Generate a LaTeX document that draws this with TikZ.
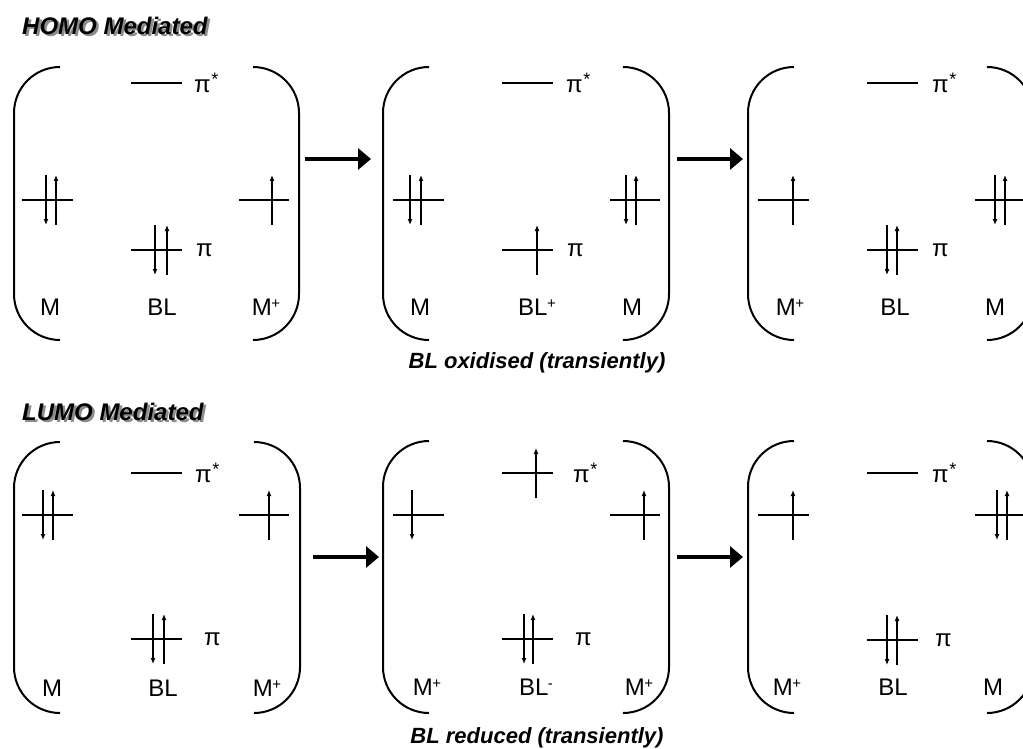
\documentclass[tikz,border=0pt]{standalone}
\usepackage{fontspec}
\setmainfont{Liberation Sans}
\usetikzlibrary{arrows.meta}
\newcommand\chg[1]{\kern-0.5pt\raisebox{0.3em}{\fontsize{15}{15}\selectfont #1}}
\newcommand\pstar{π\kern0.5pt\raisebox{0.28em}{\fontsize{18}{18}\selectfont *}}
\newcommand\shad[1]{\makebox[0pt][l]{\kern2.5pt\raisebox{-2.5pt}{\color{black!45}#1}}#1}
\newcommand\lv[3]{\draw[lvl] (#1,#3) -- (#2,#3);}
\newcommand\eup[2]{\draw[el] (#1,#2+25) -- (#1,#2-25);}
\newcommand\edn[2]{\draw[el] (#1,#2-25) -- (#1,#2+25);}
\newcommand\brkL[3]{\draw[brk] (#1+46,#2) -- (#1,#2) -- (#1,#3) -- (#1+46,#3);}
\newcommand\brkR[3]{\draw[brk] (#1-46,#2) -- (#1,#2) -- (#1,#3) -- (#1-46,#3);}
\begin{document}
\begin{tikzpicture}[x=1pt,y=-1pt,
  lvl/.style={line width=1.3pt},
  el/.style={line width=1.3pt,-{Latex[length=6pt,width=5pt]}},
  brk/.style={line width=2pt,rounded corners=46pt},
  big/.style={line width=4pt,-{Triangle[length=13pt,width=21pt]}},
  lab/.style={font=\fontsize{24}{24}\selectfont, inner sep=0pt},
  orb/.style={font=\fontsize{24}{24}\selectfont, inner sep=0pt, anchor=west},
  ttl/.style={font=\fontsize{24}{24}\selectfont\bfseries\itshape, inner sep=0pt, anchor=west},
  captxt/.style={font=\fontsize{22}{22}\selectfont\bfseries\itshape, inner sep=0pt}]
\useasboundingbox (0,0) rectangle (1023,749);
% ---------- titles ----------
\node[ttl] (t1) at (22,27) {\shad{HOMO Mediated}};
\node[ttl] (t2) at (22,413) {\shad{LUMO Mediated}};
% ================= TOP ROW =================
% panel 1
\brkL{14}{67}{340}\brkR{299}{67}{340}
\lv{131}{182}{83}\node[orb] (a1ps) at (194,83) {\pstar};
\lv{22}{73}{200}\edn{46}{200}\eup{56}{200}
\lv{131}{182}{250}\edn{155}{250}\eup{167}{250}\node[orb] (a1p) at (196,250) {π};
\lv{239}{289}{200}\eup{272}{200}
\node[lab] (a1m) at (50,307) {M};
\node[lab] (a1bl) at (162,307) {BL};
\node[lab] (a1mp) at (266,307) {M\chg{+}};
% arrow
\coordinate (a12s) at (305,159); \coordinate (a12e) at (371,159);
\draw[big] (a12s) -- (a12e);
% panel 2
\brkL{383}{67}{340}\brkR{669}{67}{340}
\lv{502}{553}{83}\node[orb] (a2ps) at (566,83) {\pstar};
\lv{393}{444}{200}\edn{410}{200}\eup{421}{200}
\lv{502}{553}{250}\eup{537}{250}\node[orb] (a2p) at (567,250) {π};
\lv{610}{660}{200}\edn{626}{200}\eup{636}{200}
\node[lab] (a2m) at (420,307) {M};
\node[lab] (a2bl) at (537,307) {BL\chg{+}};
\node[lab] (a2mr) at (632,307) {M};
\node[captxt] (capA) at (537,363) {BL oxidised (transiently)};
% arrow
\coordinate (a23s) at (677,159); \coordinate (a23e) at (743,159);
\draw[big] (a23s) -- (a23e);
% panel 3
\brkL{748}{67}{340}\brkR{1033}{67}{340}
\lv{867}{918}{83}\node[orb] (a3ps) at (932,83) {\pstar};
\lv{758}{809}{200}\eup{793}{200}
\lv{867}{918}{250}\edn{887}{250}\eup{897}{250}\node[orb] (a3p) at (932,250) {π};
\lv{975}{1026}{200}\edn{995}{200}\eup{1005}{200}
\node[lab] (a3mp) at (790,307) {M\chg{+}};
\node[lab] (a3bl) at (895,307) {BL};
\node[lab] (a3m) at (995,307) {M};
% ================= BOTTOM ROW =================
% panel 1
\brkL{14}{442}{713}\brkR{300}{442}{713}
\lv{131}{182}{473}\node[orb] (b1ps) at (195,473) {\pstar};
\lv{22}{73}{515}\edn{43}{515}\eup{53}{515}
\lv{239}{289}{515}\eup{269}{515}
\lv{131}{182}{639}\edn{153}{639}\eup{164}{639}\node[orb] (b1p) at (204,639) {π};
\node[lab] (b1m) at (52,688) {M};
\node[lab] (b1bl) at (163,688) {BL};
\node[lab] (b1mp) at (267,688) {M\chg{+}};
% arrow
\coordinate (b12s) at (313,557); \coordinate (b12e) at (379,557);
\draw[big] (b12s) -- (b12e);
% panel 2
\brkL{383}{441}{713}\brkR{669}{441}{713}
\lv{502}{553}{473}\eup{536}{473}\node[orb] (b2ps) at (573,473) {\pstar};
\lv{393}{444}{515}\edn{412}{515}
\lv{610}{660}{515}\eup{644}{515}
\lv{502}{553}{639}\edn{524}{639}\eup{533}{639}\node[orb] (b2p) at (575,639) {π};
\node[lab] (b2mp) at (427,687) {M\chg{+}};
\node[lab] (b2bl) at (536,687) {BL\chg{-}};
\node[lab] (b2mr) at (639,687) {M\chg{+}};
\node[captxt] (capB) at (537,738) {BL reduced (transiently)};
% arrow
\coordinate (b23s) at (677,557); \coordinate (b23e) at (743,557);
\draw[big] (b23s) -- (b23e);
% panel 3
\brkL{748}{441}{713}\brkR{1033}{441}{713}
\lv{867}{918}{473}\node[orb] (b3ps) at (932,473) {\pstar};
\lv{758}{809}{515}\eup{793}{515}
\lv{975}{1026}{515}\edn{997}{515}\eup{1007}{515}
\lv{867}{918}{640}\edn{887}{640}\eup{897}{640}\node[orb] (b3p) at (935,640) {π};
\node[lab] (b3mp) at (787,687) {M\chg{+}};
\node[lab] (b3bl) at (893,687) {BL};
\node[lab] (b3m) at (993,687) {M};
\end{tikzpicture}
\end{document}
